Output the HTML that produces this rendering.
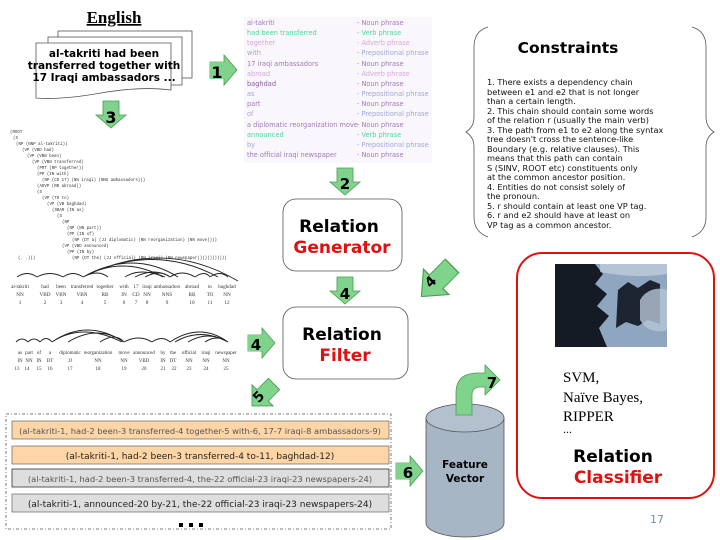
<!DOCTYPE html>
<html><head><meta charset="utf-8"><style>
html,body{margin:0;padding:0;background:#fff;}
svg{display:block}
.ser{font-family:"Liberation Serif",serif}
.san{font-family:"DejaVu Sans","Liberation Sans",sans-serif}
</style></head><body>
<svg width="720" height="540" viewBox="0 0 720 540" xmlns="http://www.w3.org/2000/svg">
<defs>
<g id="dn"><path d="M-8,0 h16 v14 h7 l-15,13 l-15,-13 h7z" fill="#7fd38a" stroke="#4c9a55" stroke-width="0.8"/></g>
<g id="rt"><path d="M0,-8 v16 h14 v7 l13,-15 l-13,-15 v7z" fill="#7fd38a" stroke="#4c9a55" stroke-width="0.8"/></g>
</defs>

<text x="114" y="23" class="ser" font-size="17" font-weight="bold" text-anchor="middle" text-decoration="underline">English</text>
<rect x="58" y="31" width="134" height="47" fill="#fff" stroke="#555" stroke-width="0.8"/>
<rect x="48" y="37" width="134" height="48" fill="#fff" stroke="#555" stroke-width="0.8"/>
<path d="M36,43 h135 v47 q-30,-4 -70,3 q-40,7 -65,5z" fill="#fff" stroke="#555" stroke-width="0.8"/>
<text class="san" font-size="10.5" font-weight="bold" text-anchor="middle"><tspan x="104" y="57">al-takriti had been</tspan><tspan x="104" y="69">transferred together with</tspan><tspan x="104" y="81">17 Iraqi ambassadors ...</tspan></text>

<g transform="translate(210,70)"><use href="#rt"/></g>
<rect x="210" y="62" width="15" height="17" fill="#7fd38a"/>
<text x="217" y="78" class="san" font-size="16" font-weight="bold" text-anchor="middle">1</text>
<g transform="translate(111,101)"><use href="#dn"/></g>
<text x="111" y="123" class="san" font-size="16" font-weight="bold" text-anchor="middle">3</text>

<g font-family="Liberation Mono,monospace" font-size="4.1" fill="#333">
<text x="10" y="133">(ROOT</text><text x="13" y="139">(S</text>
<text x="16" y="145">(NP (NNP al-takriti))</text>
<text x="22" y="151">(VP (VBD had)</text>
<text x="27" y="157">(VP (VBN been)</text>
<text x="32" y="163">(VP (VBN transferred)</text>
<text x="37" y="169">(PRT (RP together))</text>
<text x="37" y="175">(PP (IN with)</text>
<text x="42" y="181">(NP (CD 17) (NN iraqi) (NNS ambassadors)))</text>
<text x="37" y="187">(ADVP (RB abroad))</text>
<text x="37" y="193">(S</text>
<text x="42" y="199">(VP (TO to)</text>
<text x="47" y="205">(VP (VB baghdad)</text>
<text x="52" y="211">(SBAR (IN as)</text>
<text x="57" y="217">(S</text>
<text x="62" y="223">(NP</text>
<text x="67" y="229">(NP (NN part))</text>
<text x="67" y="235">(PP (IN of)</text>
<text x="72" y="241">(NP (DT a) (JJ diplomatic) (NN reorganization) (NN move))))</text>
<text x="62" y="247">(VP (VBD announced)</text>
<text x="67" y="253">(PP (IN by)</text>
<text x="72" y="259">(NP (DT the) (JJ official) (NN iraqi) (NN newspaper))))))))))))</text>
<text x="18" y="259">(. .)))</text>
</g>

<g fill="none" stroke="#222" stroke-width="0.9">
<path d="M17,277 q10,-7 20,0 M37,277 q13,-7 26,0 M63,277 q10,-7 20,0"/>
<path d="M83,277 q15,-8 25,0 M83,277 q40,-22 80,0 M83,277 q50,-28 95,0 M83,277 q70,-35 135,0 M83,277 q80,-40 155,4"/>
<path d="M125,277 q15,-10 40,0 M135,277 q20,-10 35,0 M145,277 q15,-8 25,0 M170,277 q12,-8 25,0 M195,277 q10,-7 15,0 M210,277 q10,-7 18,0"/>
</g>
<g class="ser" font-size="5.2" fill="#333" text-anchor="middle">
<text y="288"><tspan x="20">al-takriti</tspan><tspan x="45">had</tspan><tspan x="61">been</tspan><tspan x="82">transferred</tspan><tspan x="105">together</tspan><tspan x="124">with</tspan><tspan x="136">17</tspan><tspan x="147">iraqi</tspan><tspan x="167">ambassadors</tspan><tspan x="192">abroad</tspan><tspan x="210">to</tspan><tspan x="227">baghdad</tspan></text>
<text y="296"><tspan x="20">NN</tspan><tspan x="45">VBD</tspan><tspan x="61">VBN</tspan><tspan x="82">VBN</tspan><tspan x="105">RB</tspan><tspan x="124">IN</tspan><tspan x="136">CD</tspan><tspan x="147">NN</tspan><tspan x="167">NNS</tspan><tspan x="192">RB</tspan><tspan x="210">TO</tspan><tspan x="227">NN</tspan></text>
<text y="304"><tspan x="20">1</tspan><tspan x="45">2</tspan><tspan x="61">3</tspan><tspan x="82">4</tspan><tspan x="105">5</tspan><tspan x="124">6</tspan><tspan x="136">7</tspan><tspan x="147">8</tspan><tspan x="167">9</tspan><tspan x="192">10</tspan><tspan x="210">11</tspan><tspan x="227">12</tspan></text>
</g>
<g fill="none" stroke="#222" stroke-width="0.9">
<path d="M16,342 q6,-6 12,0 M28,342 q6,-6 12,0 M40,342 q6,-7 12,0 M52,342 q30,-20 70,0 M52,342 q35,-24 72,0 M68,342 q30,-18 56,0 M100,342 q15,-10 24,0"/>
<path d="M124,342 q15,-8 28,0 M152,342 q10,-7 18,0 M170,342 q30,-20 58,0 M175,342 q25,-15 53,0 M188,342 q20,-12 40,0 M205,342 q12,-8 23,0"/>
</g>
<g class="ser" font-size="5" fill="#333" text-anchor="middle">
<text y="354"><tspan x="20">as</tspan><tspan x="29">part</tspan><tspan x="39">of</tspan><tspan x="50">a</tspan><tspan x="70">diplomatic</tspan><tspan x="98">reorganization</tspan><tspan x="124">move</tspan><tspan x="144">announced</tspan><tspan x="163">by</tspan><tspan x="173">the</tspan><tspan x="189">official</tspan><tspan x="206">iraqi</tspan><tspan x="226">newspaper</tspan></text>
<text y="362"><tspan x="20">IN</tspan><tspan x="29">NN</tspan><tspan x="39">IN</tspan><tspan x="50">DT</tspan><tspan x="70">JJ</tspan><tspan x="98">NN</tspan><tspan x="124">NN</tspan><tspan x="144">VBD</tspan><tspan x="163">IN</tspan><tspan x="173">DT</tspan><tspan x="189">NN</tspan><tspan x="206">NN</tspan><tspan x="226">NN</tspan></text>
<text y="370"><tspan x="17">13</tspan><tspan x="27">14</tspan><tspan x="39">15</tspan><tspan x="50">16</tspan><tspan x="70">17</tspan><tspan x="98">18</tspan><tspan x="124">19</tspan><tspan x="144">20</tspan><tspan x="163">21</tspan><tspan x="174">22</tspan><tspan x="189">23</tspan><tspan x="206">24</tspan><tspan x="226">25</tspan></text>
</g>

<rect x="244" y="17" width="188" height="146" fill="#f9f7fb"/>
<g class="san" font-size="6.6">
<text x="247" y="25" fill="#a27ab7">al-takriti</text><text x="357" y="25" fill="#a27ab7">-  Noun phrase</text>
<text x="247" y="35" fill="#4dd6a0">had been transferred</text><text x="357" y="35" fill="#4dd6a0">-  Verb phrase</text>
<text x="247" y="45" fill="#d7a6dc">together</text><text x="357" y="45" fill="#d7a6dc">-  Adverb phrase</text>
<text x="247" y="55" fill="#a0a7d7">with</text><text x="357" y="55" fill="#a0a7d7">-  Prepositional phrase</text>
<text x="247" y="66" fill="#a27ab7">17 iraqi ambassadors</text><text x="357" y="66" fill="#a27ab7">-  Noun phrase</text>
<text x="247" y="76" fill="#d7a6dc">abroad</text><text x="357" y="76" fill="#d7a6dc">-  Adverb phrase</text>
<text x="247" y="86" fill="#8a5aa0">baghdad</text><text x="357" y="86" fill="#a27ab7">-  Noun phrase</text>
<text x="247" y="96" fill="#a0a7d7">as</text><text x="357" y="96" fill="#a0a7d7">-  Prepositional phrase</text>
<text x="247" y="106" fill="#a27ab7">part</text><text x="357" y="106" fill="#a27ab7">-  Noun phrase</text>
<text x="247" y="116" fill="#a0a7d7">of</text><text x="357" y="116" fill="#a0a7d7">-  Prepositional phrase</text>
<text x="247" y="127" fill="#a27ab7">a diplomatic reorganization move</text><text x="357" y="127" fill="#a27ab7">-  Noun phrase</text>
<text x="247" y="137" fill="#4dd6a0">announced</text><text x="357" y="137" fill="#4dd6a0">-  Verb phrase</text>
<text x="247" y="147" fill="#a0a7d7">by</text><text x="357" y="147" fill="#a0a7d7">-  Prepositional phrase</text>
<text x="247" y="157" fill="#a27ab7">the official iraqi newspaper</text><text x="357" y="157" fill="#a27ab7">-  Noun phrase</text>
</g>

<g transform="translate(345,168)"><use href="#dn"/></g>
<text x="345" y="189" class="san" font-size="15" font-weight="bold" text-anchor="middle">2</text>

<rect x="283" y="199" width="119" height="72" rx="13" fill="#fff" stroke="#555" stroke-width="0.8"/>
<text x="339" y="232" class="san" font-size="17" font-weight="bold" text-anchor="middle">Relation</text>
<text x="342" y="253" class="san" font-size="17" font-weight="bold" fill="#e01010" text-anchor="middle">Generator</text>

<g transform="translate(345,277)"><use href="#dn"/></g>
<text x="345" y="299" class="san" font-size="15" font-weight="bold" text-anchor="middle">4</text>
<g transform="translate(452,266) rotate(135) scale(1.6,1.2)"><use href="#rt"/></g>
<text x="0" y="0" class="san" font-size="14" font-weight="bold" text-anchor="middle" transform="translate(434,285) rotate(-45)">4</text>

<rect x="283" y="307" width="125" height="72" rx="13" fill="#fff" stroke="#555" stroke-width="0.8"/>
<text x="342" y="340" class="san" font-size="17" font-weight="bold" text-anchor="middle">Relation</text>
<text x="345" y="361" class="san" font-size="17" font-weight="bold" fill="#e01010" text-anchor="middle">Filter</text>

<g transform="translate(248,343)"><use href="#rt"/></g>
<rect x="248" y="335" width="15" height="16" fill="#7fd38a"/>
<text x="256" y="350" class="san" font-size="15" font-weight="bold" text-anchor="middle">4</text>
<g transform="translate(274,384) rotate(135) scale(1.15,1)"><use href="#rt"/></g>
<text x="0" y="0" class="san" font-size="14" font-weight="bold" text-anchor="middle" transform="translate(262,400) rotate(-45)">5</text>

<rect x="6" y="414" width="385" height="115" fill="none" stroke="#555" stroke-width="0.8" stroke-dasharray="3,2,1,2"/>
<rect x="12" y="421" width="377" height="18" fill="#fdd5a6" stroke="#666" stroke-width="0.7"/>
<rect x="12" y="446" width="377" height="18" fill="#fdd5a6" stroke="#666" stroke-width="0.7"/>
<rect x="12" y="469" width="377" height="18" fill="#dedede" stroke="#333" stroke-width="0.8"/>
<rect x="12" y="494" width="377" height="18" fill="#dedede" stroke="#666" stroke-width="0.7"/>
<g class="san" text-anchor="middle">
<text x="200" y="434" font-size="8.3" fill="#555">(al-takriti-1, had-2 been-3 transferred-4 together-5 with-6, 17-7 iraqi-8 ambassadors-9)</text>
<text x="200" y="459" font-size="9" fill="#222">(al-takriti-1, had-2 been-3 transferred-4 to-11, baghdad-12)</text>
<text x="200" y="482" font-size="8.3" fill="#555">(al-takriti-1, had-2 been-3 transferred-4, the-22 official-23 iraqi-23 newspapers-24)</text>
<text x="200" y="507" font-size="9" fill="#222">(al-takriti-1, announced-20 by-21, the-22 official-23 iraqi-23 newspapers-24)</text>
</g>
<rect x="179" y="523" width="4" height="4" fill="#000"/><rect x="189" y="523" width="4" height="4" fill="#000"/><rect x="199" y="523" width="4" height="4" fill="#000"/>

<g transform="translate(396,471)"><use href="#rt"/></g>
<rect x="396" y="463" width="14" height="16" fill="#7fd38a"/>
<text x="408" y="478" class="san" font-size="15" font-weight="bold" text-anchor="middle">6</text>

<path d="M426,418 v105 a39,14 0 0 0 78,0 v-105z" fill="#a7b6c4" stroke="#555" stroke-width="0.8"/>
<ellipse cx="465" cy="418" rx="39" ry="14" fill="#b3c1ce" stroke="#555" stroke-width="0.8"/>
<text x="465" y="468" class="san" font-size="10.5" font-weight="bold" text-anchor="middle">Feature</text>
<text x="465" y="482" class="san" font-size="10.5" font-weight="bold" text-anchor="middle">Vector</text>

<path d="M456,415 v-22 q0,-20 22,-20 h7 v-8 l15,15 l-15,15 v-8 h-5 q-8,0 -8,8 v20z" fill="#7fd38a" stroke="#4c9a55" stroke-width="0.8"/>
<text x="492" y="388" class="san" font-size="15" font-weight="bold" text-anchor="middle">7</text>

<rect x="517" y="253" width="197" height="245" rx="25" fill="#fff" stroke="#e01010" stroke-width="2"/>
<rect x="555" y="264" width="112" height="83" fill="#8ea6bf"/>
<path d="M555,264 h40 l8,10 l-8,10 l12,10 l-10,12 l12,10 l-10,12 l8,19 h-52z" fill="#151b24"/>
<path d="M618,290 l10,-8 l10,6 l12,-8 l10,4 v40 l-12,-4 l-10,6 l-12,-4 l-10,6z" fill="#1c2430"/>
<path d="M640,300 a22,22 0 0 1 27,-10 v40 a22,22 0 0 1 -27,-10z" fill="#b7c6d6" opacity="0.8"/>
<path d="M600,264 h67 v10 q-30,5 -67,-2z" fill="#cfdbe6" opacity="0.6"/>
<text class="ser" font-size="15" x="563" y="382">SVM,</text>
<text class="ser" font-size="15" x="563" y="402">Naïve Bayes,</text>
<text class="ser" font-size="15" x="563" y="421">RIPPER</text>
<text class="ser" font-size="12" x="563" y="433">...</text>
<text x="613" y="462" class="san" font-size="17" font-weight="bold" text-anchor="middle">Relation</text>
<text x="618" y="483" class="san" font-size="17" font-weight="bold" fill="#e01010" text-anchor="middle">Classifier</text>
<text x="657" y="523" class="san" font-size="11" fill="#6f8fb0" text-anchor="middle">17</text>

<path d="M488,27 q-14,4 -14,20 v70 q0,10 -8,15 q8,5 8,15 v70 q0,15 14,20" fill="none" stroke="#555" stroke-width="0.8"/>
<path d="M692,27 q14,4 14,20 v70 q0,10 8,15 q-8,5 -8,15 v70 q0,15 -14,20" fill="none" stroke="#555" stroke-width="0.8"/>
<text x="568" y="53" class="san" font-size="15.5" font-weight="bold" text-anchor="middle">Constraints</text>
<g class="san" font-size="8.2" fill="#111">
<text x="487" y="85">1. There exists a dependency chain</text>
<text x="487" y="95">between  e1 and e2 that is not longer</text>
<text x="487" y="104">than a certain length.</text>
<text x="487" y="114">2. This chain should contain some words</text>
<text x="487" y="123">of the relation r (usually the main verb)</text>
<text x="487" y="133">3. The path from e1 to e2 along the syntax</text>
<text x="487" y="142">tree doesn't cross the sentence-like</text>
<text x="487" y="152">Boundary (e.g. relative clauses). This</text>
<text x="487" y="161">means that this path can contain</text>
<text x="487" y="171">S (SINV, ROOT etc) constituents only</text>
<text x="487" y="180">at the common ancestor position.</text>
<text x="487" y="190">4. Entities do not consist solely of</text>
<text x="487" y="199">the pronoun.</text>
<text x="487" y="209">5. r should contain at least one VP tag.</text>
<text x="487" y="218">6. r and e2 should have at least on</text>
<text x="487" y="228">VP tag as a common ancestor.</text>
</g>
</svg>
</body></html>
